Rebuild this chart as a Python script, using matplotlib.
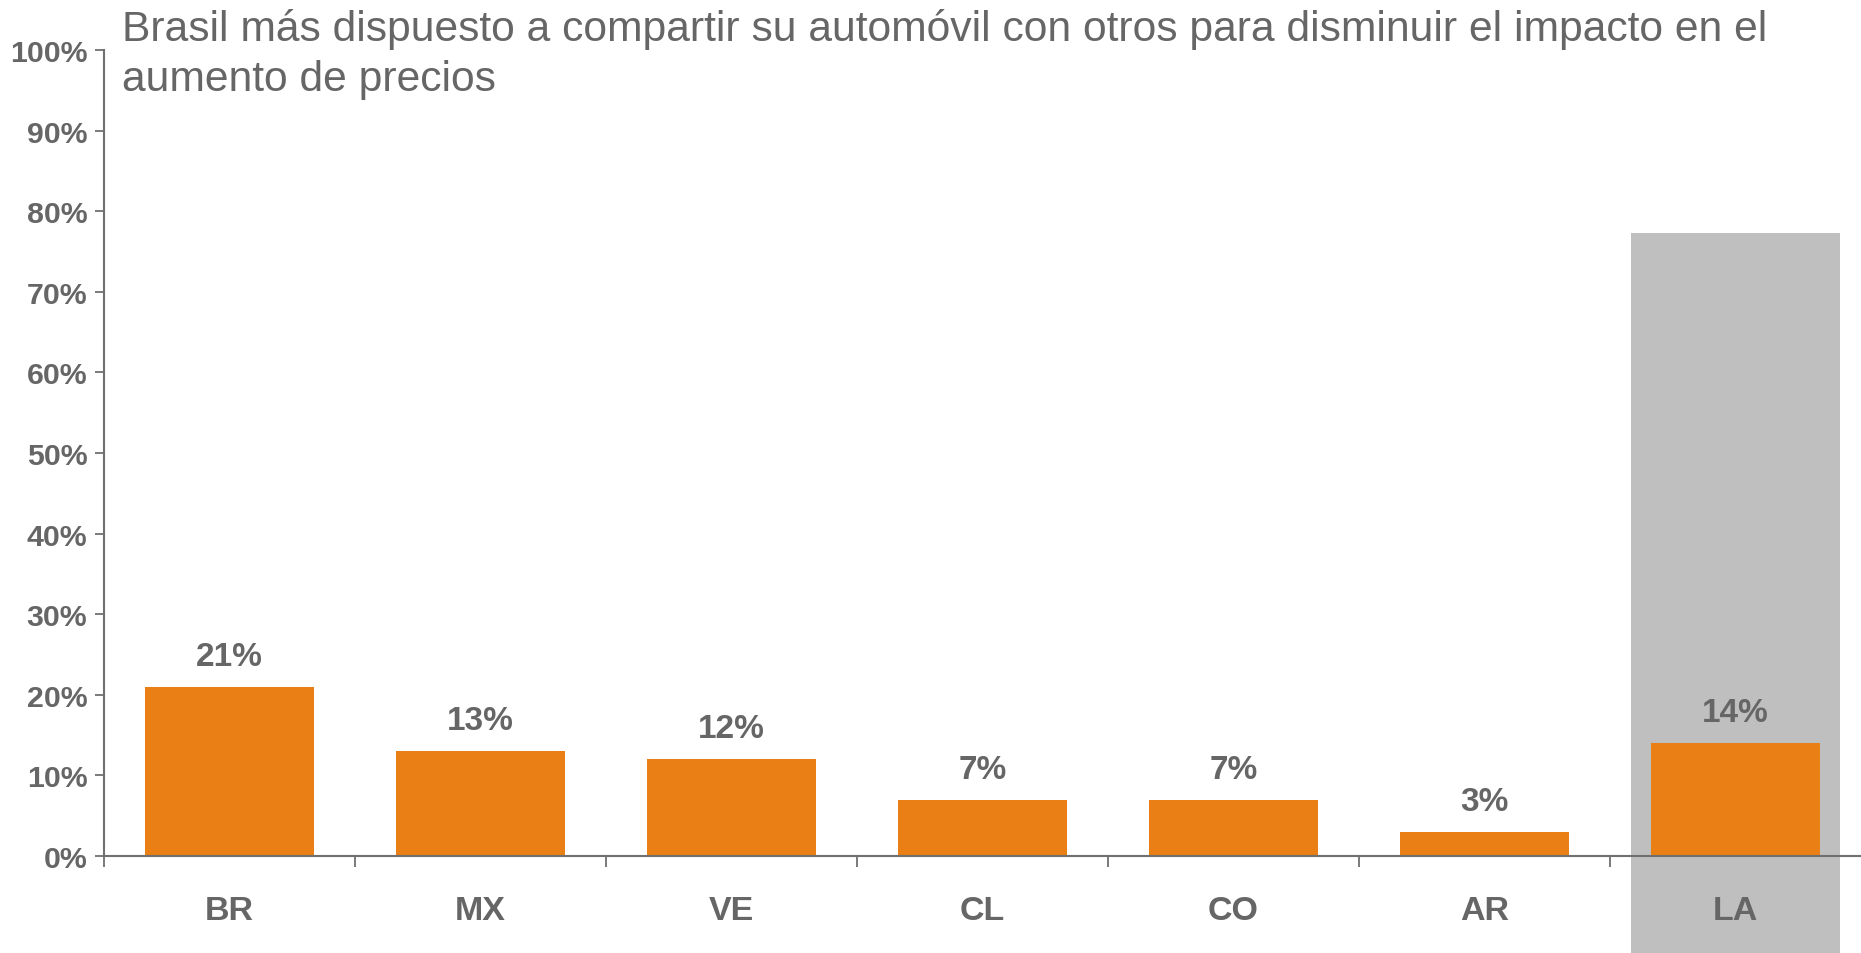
import matplotlib
matplotlib.use("Agg")
import matplotlib.pyplot as plt
from matplotlib.ticker import FuncFormatter

categories = ["BR", "MX", "VE", "CL", "CO", "AR", "LA"]
values = [0.21, 0.13, 0.12, 0.07, 0.07, 0.03, 0.14]
labels = ["21%", "13%", "12%", "7%", "7%", "3%", "14%"]
yticks = [0.0, 0.1, 0.2, 0.3, 0.4, 0.5, 0.6, 0.7, 0.8, 0.9, 1.0]
title = ("Brasil más dispuesto a compartir su automóvil con otros para disminuir el impacto en el\n"
         "aumento de precios")

orange = "#EA8015"
band = "#BFBFBF"
txt = "#666666"
axc = "#707070"

plt.rcParams["font.family"] = ["Liberation Sans", "DejaVu Sans"]

fig = plt.figure(figsize=(18.61, 9.54), dpi=100)
ax = fig.add_axes([104 / 1861, 97 / 954, 1 - 104 / 1861, 806 / 954])

x = list(range(len(categories)))

# gray highlight behind the regional average
ax.bar(x[-1], 0.773 + 0.15, bottom=-0.15, width=0.836, color=band,
       zorder=0, clip_on=False, linewidth=0)

ax.bar(x, values, width=0.675, color=orange, zorder=2, linewidth=0)

for xi, v, lab in zip(x, values, labels):
    ax.annotate(lab, (xi, v), xytext=(0, 15.8), textcoords="offset points",
                ha="center", va="baseline", fontsize=24, fontweight="bold",
                color=txt)

ax.set_xlim(-0.5, len(categories) - 0.5)
ax.set_ylim(0, 1.0)

ax.set_yticks(yticks)
ax.yaxis.set_major_formatter(FuncFormatter(lambda v, p: f"{v:.0%}"))
ax.tick_params(axis="y", direction="out", length=6.5, width=1.3, color=axc,
               labelsize=21.8, labelcolor=txt, pad=5.5)
for t in ax.get_yticklabels():
    t.set_fontweight("bold")

ax.set_xticks(x)
ax.set_xticklabels(categories, fontsize=24.5, fontweight="bold", color=txt)
ax.tick_params(axis="x", which="major", length=0, pad=28)
ax.set_xticks([i - 0.5 for i in range(len(categories))], minor=True)
ax.tick_params(axis="x", which="minor", direction="out", length=8, width=1.3,
               color=axc)

for s in ["top", "right"]:
    ax.spines[s].set_visible(False)
for s in ["left", "bottom"]:
    ax.spines[s].set_color(axc)
    ax.spines[s].set_linewidth(1.5)
ax.spines["bottom"].set_zorder(3)
ax.patch.set_alpha(0)

fig.text(122 / 1861, 1 - 9 / 954, title, ha="left", va="top", fontsize=30.7,
         color=txt, linespacing=1.32)

fig.savefig("out.png", dpi=100)
